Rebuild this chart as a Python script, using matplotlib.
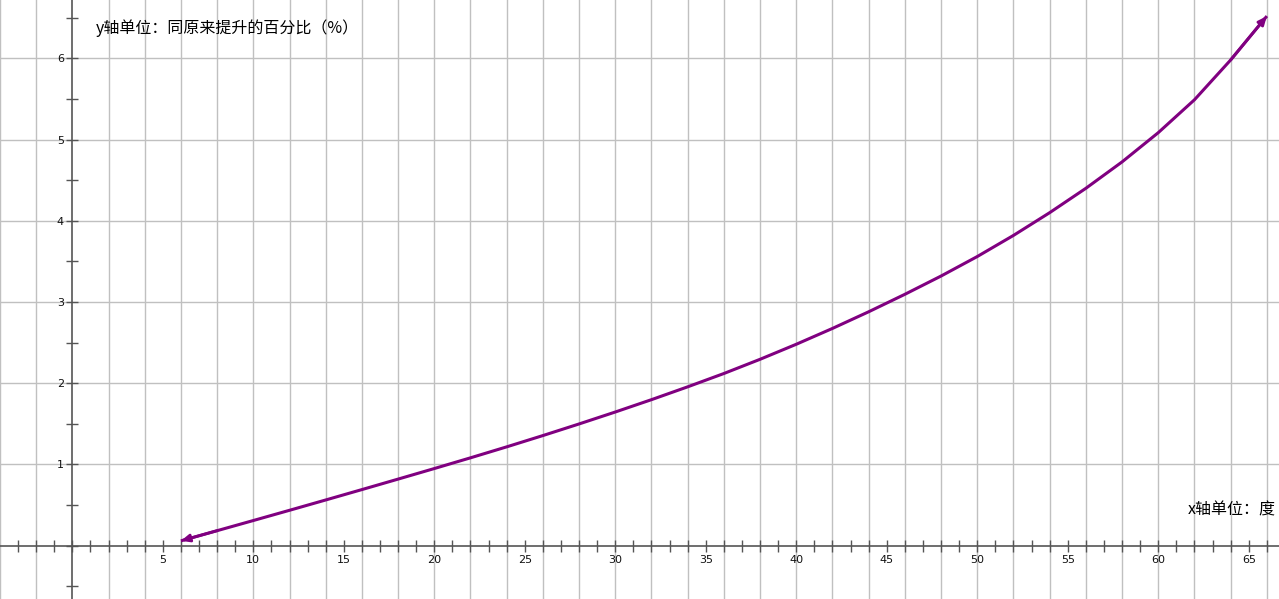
import numpy as np
import matplotlib
matplotlib.use("Agg")
import matplotlib.pyplot as plt
from matplotlib.ticker import MultipleLocator, FuncFormatter

plt.rcParams['font.family'] = ['DejaVu Sans', 'Noto Sans CJK SC']

# -------------------
# Data
# -------------------
degrees = [6, 8, 10, 12, 14, 16, 18, 20, 22, 24, 26, 28, 30, 32, 34, 36,
           38, 40, 42, 44, 46, 48, 50, 52, 54, 56, 58, 60, 62, 64, 66]
gain_pct = [0.06, 0.185, 0.31, 0.436, 0.563, 0.691, 0.82, 0.95, 1.082, 1.217,
            1.356, 1.499, 1.646, 1.798, 1.956, 2.12, 2.295, 2.48, 2.675, 2.88,
            3.095, 3.32, 3.56, 3.82, 4.10, 4.40, 4.725, 5.085, 5.49, 5.98, 6.52]

y_title = "y轴单位：同原来提升的百分比（%）"
x_title = "x轴单位：度"

xlim = (-3.995, 66.67)
ylim = (-0.656, 6.718)

curve_color = "#800080"
grid_color = "#c0c0c0"
axis_color = "#555555"

# -------------------
# Figure
# -------------------
fig = plt.figure(figsize=(12.79, 5.99), dpi=100)
ax = fig.add_axes([0, 0, 1, 1])
ax.set_xlim(*xlim)
ax.set_ylim(*ylim)
ax.set_facecolor("white")

# grid: vertical every 2 units, horizontal every 1 unit
for gx in np.arange(-4, 68, 2):
    if gx != 0:
        ax.axvline(gx, color=grid_color, lw=1.0, zorder=0)
for gy in np.arange(1, 7, 1):
    ax.axhline(gy, color=grid_color, lw=1.0, zorder=0)

# axes through the origin
for side in ("top", "right"):
    ax.spines[side].set_visible(False)
for side in ("left", "bottom"):
    ax.spines[side].set_position("zero")
    ax.spines[side].set_color(axis_color)
    ax.spines[side].set_linewidth(1.2)

ax.xaxis.set_major_locator(MultipleLocator(5))
ax.xaxis.set_minor_locator(MultipleLocator(1))
ax.yaxis.set_major_locator(MultipleLocator(1))
ax.yaxis.set_minor_locator(MultipleLocator(0.5))
hide_zero = FuncFormatter(lambda v, p: "" if abs(v) < 1e-9 else f"{v:g}")
ax.xaxis.set_major_formatter(hide_zero)
ax.yaxis.set_major_formatter(hide_zero)
ax.tick_params(which="both", direction="inout", length=8, width=1.0,
               color=axis_color, labelsize=8, labelcolor="#111111")
ax.tick_params(axis="x", which="both", pad=3)
ax.tick_params(axis="y", which="both", pad=2)

# curve with arrow heads at both ends
ax.plot(degrees, gain_pct, color=curve_color, lw=2.2, solid_capstyle="butt",
        solid_joinstyle="round", zorder=3)
arrow = dict(arrowstyle="-|>,head_length=0.5,head_width=0.22", color=curve_color,
             lw=2.0, shrinkA=0, shrinkB=0, mutation_scale=10)
ax.annotate("", xy=(degrees[0], gain_pct[0]), xytext=(degrees[1], gain_pct[1]),
            arrowprops=arrow, zorder=4)
ax.annotate("", xy=(degrees[-1], gain_pct[-1]), xytext=(degrees[-2], gain_pct[-2]),
            arrowprops=arrow, zorder=4)

cjk = ['Noto Sans CJK SC', 'DejaVu Sans']
fig.text(96 / 1279, 1 - 28 / 599, y_title, fontsize=11.5, va="center", ha="left",
         color="black", family=cjk)
fig.text(1188 / 1279, 1 - 510 / 599, x_title, fontsize=11.5, va="center", ha="left",
         color="black", family=cjk)

fig.savefig("out.png", dpi=100, facecolor="white")
